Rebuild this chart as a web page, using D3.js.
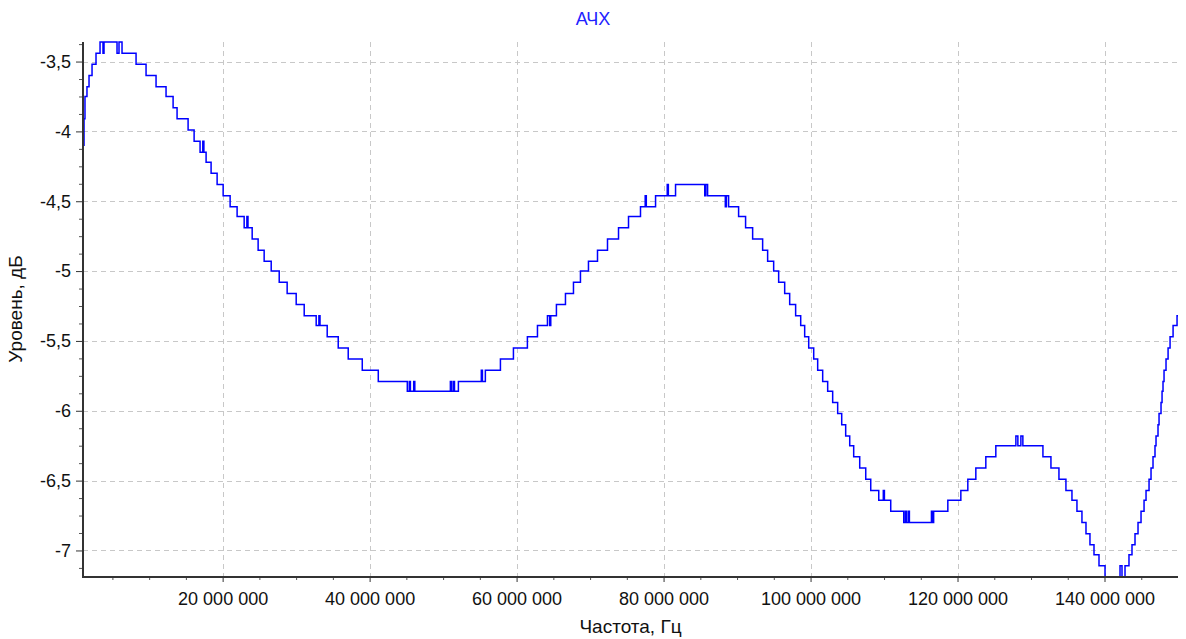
<!DOCTYPE html>
<html>
<head>
<meta charset="utf-8">
<script src="https://cdn.jsdelivr.net/npm/d3@7"></script>
<style>
  html, body { margin: 0; padding: 0; background: #fff; }
  svg { display: block; font-family: "Liberation Sans", Arial, sans-serif; }
</style>
</head>
<body>
<svg id="chart" width="1186" height="639"></svg>
<script>
/* globals d3 */
const chartTitle = "АЧХ";
const xTitle = "Частота, Гц";
const yTitle = "Уровень, дБ";

// measured response, step breakpoints (MHz, dB)
const freqMHz = [
  1.00, 1.14, 1.27, 1.54, 1.82, 2.23, 2.77, 3.32,
  3.72, 3.86, 5.63, 5.90, 6.31, 8.22, 9.58, 10.94,
  12.30, 13.26, 13.80, 15.30, 16.12, 16.93, 17.30, 17.45,
  17.75, 18.43, 19.25, 20.07, 21.02, 21.97, 22.93, 23.30,
  23.45, 24.02, 24.83, 25.65, 26.61, 27.70, 28.78, 30.01,
  31.10, 32.73, 33.10, 33.25, 34.23, 35.73, 37.09, 39.00,
  41.18, 45.13, 45.40, 45.55, 46.00, 46.15, 50.99, 51.15,
  51.40, 51.55, 52.08, 55.20, 55.35, 55.75, 57.80, 59.57,
  61.47, 62.84, 64.20, 64.50, 64.65, 65.42, 66.65, 67.74,
  68.69, 69.78, 71.01, 72.37, 73.87, 75.23, 76.86, 77.50,
  77.65, 78.91, 80.50, 80.65, 81.63, 85.60, 85.75, 85.99,
  88.40, 88.55, 88.85, 90.21, 91.16, 92.12, 93.48, 94.16,
  94.98, 95.66, 96.48, 97.16, 97.97, 98.66, 99.20, 99.75,
  100.43, 100.97, 101.65, 102.33, 103.01, 103.69, 104.24, 104.78,
  105.33, 105.87, 106.69, 107.51, 108.19, 109.28, 109.90, 110.05,
  110.91, 112.68, 112.90, 113.05, 113.30, 113.45, 116.45, 116.60,
  116.75, 118.68, 120.45, 121.40, 122.49, 123.85, 125.21, 127.94,
  128.21, 128.62, 128.89, 131.62, 132.71, 133.80, 134.75, 135.57,
  136.25, 136.93, 137.48, 138.02, 138.57, 139.25, 140.07, 142.11,
  142.38, 142.79, 143.33, 143.74, 144.15, 144.56, 144.97, 145.38,
  145.65, 146.06, 146.33, 146.60, 146.87, 147.01, 147.28, 147.42,
  147.69, 147.83, 147.96, 148.10, 148.37, 148.65, 148.92, 149.33,
  149.87, 150.00
];
const levelDb = [
  -4.10, -3.91, -3.75, -3.68, -3.60, -3.52, -3.44, -3.36,
  -3.44, -3.36, -3.44, -3.36, -3.44, -3.52, -3.60, -3.68,
  -3.75, -3.83, -3.91, -3.99, -4.07, -4.15, -4.07, -4.15,
  -4.22, -4.30, -4.38, -4.46, -4.54, -4.61, -4.69, -4.61,
  -4.69, -4.77, -4.85, -4.93, -5.00, -5.08, -5.16, -5.24,
  -5.32, -5.39, -5.32, -5.39, -5.47, -5.55, -5.63, -5.71,
  -5.79, -5.86, -5.79, -5.86, -5.79, -5.86, -5.79, -5.86,
  -5.79, -5.86, -5.79, -5.71, -5.79, -5.71, -5.63, -5.55,
  -5.47, -5.39, -5.32, -5.39, -5.32, -5.24, -5.16, -5.08,
  -5.00, -4.93, -4.85, -4.77, -4.69, -4.61, -4.54, -4.46,
  -4.54, -4.46, -4.38, -4.46, -4.38, -4.46, -4.38, -4.46,
  -4.54, -4.46, -4.54, -4.61, -4.69, -4.77, -4.85, -4.93,
  -5.00, -5.08, -5.16, -5.24, -5.32, -5.39, -5.47, -5.55,
  -5.63, -5.71, -5.79, -5.86, -5.94, -6.02, -6.10, -6.18,
  -6.25, -6.33, -6.41, -6.49, -6.57, -6.64, -6.57, -6.64,
  -6.72, -6.80, -6.72, -6.80, -6.72, -6.80, -6.72, -6.80,
  -6.72, -6.64, -6.57, -6.49, -6.41, -6.33, -6.25, -6.18,
  -6.25, -6.18, -6.25, -6.33, -6.41, -6.49, -6.57, -6.64,
  -6.72, -6.80, -6.88, -6.96, -7.03, -7.11, -7.19, -7.11,
  -7.19, -7.11, -7.03, -6.96, -6.88, -6.80, -6.72, -6.64,
  -6.57, -6.49, -6.41, -6.33, -6.25, -6.18, -6.10, -6.02,
  -5.94, -5.86, -5.79, -5.71, -5.63, -5.55, -5.47, -5.39,
  -5.32, -5.32
];

const xMajorTicks = [20, 40, 60, 80, 100, 120, 140];
const yMajorTicks = [-3.5, -4, -4.5, -5, -5.5, -6, -6.5, -7];

const svg = d3.select("#chart");
const plot = { left: 83, right: 1178, top: 42, bottom: 577 };

const x = d3.scaleLinear().domain([1, 150]).range([plot.left, plot.right]);
const y = d3.scaleLinear().domain([-7.19, -3.36]).range([plot.bottom, plot.top]);

const locale = d3.formatLocale({
  decimal: ",", thousands: " ", grouping: [3], currency: ["", ""], minus: "-"
});
const fmtHz = locale.format(",d");
const fmtDb = locale.format("~g");

const xMinorTicks = d3.range(5, 150, 5).filter((d) => d % 20 !== 0);
const yMinorTicks = d3.range(-3.375, -7.19, -0.125).filter((d) => d % 0.5 !== 0);

// grid
const grid = svg.append("g")
  .attr("stroke", "#c8c8c8")
  .attr("stroke-width", 1)
  .attr("stroke-dasharray", "5,4")
  .attr("shape-rendering", "crispEdges");
grid.selectAll(".gx")
  .data(xMajorTicks)
  .enter()
  .append("line")
  .attr("x1", (d) => Math.round(x(d)) + 0.5)
  .attr("x2", (d) => Math.round(x(d)) + 0.5)
  .attr("y1", plot.top)
  .attr("y2", plot.bottom);
grid.selectAll(".gy")
  .data(yMajorTicks)
  .enter()
  .append("line")
  .attr("x1", plot.left)
  .attr("x2", plot.right)
  .attr("y1", (d) => Math.round(y(d)) + 0.5)
  .attr("y2", (d) => Math.round(y(d)) + 0.5);

// minor ticks
svg.append("g")
  .attr("transform", `translate(0,${plot.bottom})`)
  .call(d3.axisBottom(x).tickValues(xMinorTicks).tickSize(3).tickFormat(""))
  .call((g) => g.select(".domain").remove())
  .call((g) => g.selectAll("line").attr("stroke", "#555"));
svg.append("g")
  .attr("transform", `translate(${plot.left},0)`)
  .call(d3.axisLeft(y).tickValues(yMinorTicks).tickSize(4).tickFormat(""))
  .call((g) => g.select(".domain").remove())
  .call((g) => g.selectAll("line").attr("stroke", "#555"));

// major ticks + labels
svg.append("g")
  .attr("transform", `translate(0,${plot.bottom})`)
  .call(d3.axisBottom(x).tickValues(xMajorTicks).tickSize(5).tickPadding(10)
    .tickFormat((d) => fmtHz(d * 1e6)))
  .call((g) => g.select(".domain").remove())
  .call((g) => g.selectAll("line").attr("stroke", "#333"))
  .call((g) => g.selectAll("text").attr("font-size", 18).attr("fill", "#111")
    .attr("font-family", "\"Liberation Sans\", Arial, sans-serif"));
svg.append("g")
  .attr("transform", `translate(${plot.left},0)`)
  .call(d3.axisLeft(y).tickValues(yMajorTicks).tickSize(7).tickPadding(5)
    .tickFormat(fmtDb))
  .call((g) => g.select(".domain").remove())
  .call((g) => g.selectAll("line").attr("stroke", "#333"))
  .call((g) => g.selectAll("text").attr("font-size", 18).attr("fill", "#111")
    .attr("font-family", "\"Liberation Sans\", Arial, sans-serif"));

// response line
const line = d3.line()
  .curve(d3.curveStepAfter)
  .x((d, i) => x(freqMHz[i]))
  .y((d) => y(d));
svg.append("path")
  .datum(levelDb)
  .attr("fill", "none")
  .attr("stroke", "#0000ff")
  .attr("stroke-width", 1.5)
  .attr("d", line);

// axis lines
svg.append("line")
  .attr("x1", plot.left).attr("x2", plot.left)
  .attr("y1", plot.top).attr("y2", plot.bottom + 1)
  .attr("stroke", "#333").attr("stroke-width", 2);
svg.append("line")
  .attr("x1", plot.left).attr("x2", plot.right)
  .attr("y1", plot.bottom).attr("y2", plot.bottom)
  .attr("stroke", "#333").attr("stroke-width", 2);

// titles
svg.append("text")
  .attr("x", 593).attr("y", 25)
  .attr("text-anchor", "middle")
  .attr("font-size", 18)
  .attr("fill", "#2222ff")
  .text(chartTitle);
svg.append("text")
  .attr("x", (plot.left + plot.right) / 2).attr("y", 633)
  .attr("text-anchor", "middle")
  .attr("font-size", 19)
  .attr("fill", "#111")
  .text(xTitle);
svg.append("text")
  .attr("transform", "translate(22,309) rotate(-90)")
  .attr("text-anchor", "middle")
  .attr("font-size", 19)
  .attr("fill", "#111")
  .text(yTitle);
</script>
</body>
</html>
